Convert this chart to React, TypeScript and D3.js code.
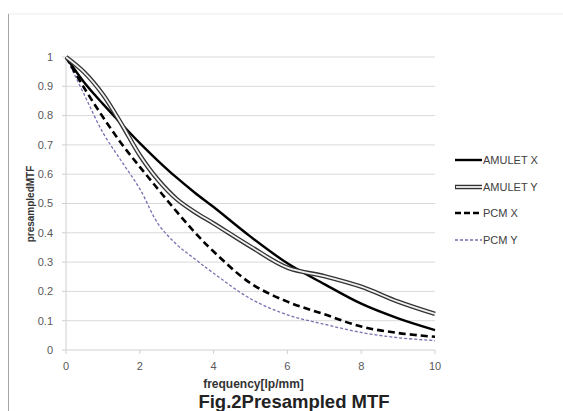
import * as d3 from "d3";
import React from "react";

// frequency [lp/mm] sample points
const freq = [0, 0.5, 1, 1.5, 2, 2.5, 3, 3.5, 4, 5, 6, 7, 8, 9, 10];

// presampled MTF values
const amuletX = [1, 0.912, 0.84, 0.772, 0.706, 0.645, 0.588, 0.536, 0.488, 0.387, 0.296, 0.225, 0.158, 0.108, 0.068];
const amuletY = [1, 0.947, 0.872, 0.772, 0.665, 0.58, 0.515, 0.47, 0.432, 0.353, 0.281, 0.252, 0.216, 0.165, 0.123];
const pcmX = [1, 0.893, 0.795, 0.705, 0.625, 0.548, 0.472, 0.4, 0.336, 0.228, 0.165, 0.122, 0.08, 0.058, 0.045];
const pcmY = [1, 0.87, 0.742, 0.645, 0.55, 0.43, 0.36, 0.31, 0.262, 0.175, 0.12, 0.088, 0.06, 0.042, 0.032];

const xTicks = [0, 2, 4, 6, 8, 10];
const yTicks = [0, 0.1, 0.2, 0.3, 0.4, 0.5, 0.6, 0.7, 0.8, 0.9, 1];

const seriesNames = ["AMULET X", "AMULET Y", "PCM X", "PCM Y"];

const W = 563;
const H = 411;
const margin = { top: 57, right: 128, bottom: 61, left: 66 };
const font = "'Liberation Sans', Arial, sans-serif";

export default function App() {
  const x = d3.scaleLinear().domain([0, 10]).range([margin.left, W - margin.right]);
  const y = d3.scaleLinear().domain([0, 1]).range([H - margin.bottom, margin.top]);

  const line = d3
    .line<number>()
    .x((_, i) => x(freq[i]))
    .y((d) => y(d))
    .curve(d3.curveCatmullRom.alpha(0.5));

  const legendY = [160, 187, 213, 240];

  return (
    <svg
      width={W}
      height={H}
      style={{ position: "absolute", left: 0, top: 0, background: "#fff" }}
      fontFamily={font}
    >
      {/* frame */}
      <line x1={8} x2={W} y1={14} y2={14} stroke="#ececec" />
      <line x1={8.5} x2={8.5} y1={14} y2={H} stroke="#a6a6a6" />

      {/* gridlines */}
      {yTicks.slice(1).map((t) => (
        <line key={t} x1={x(0)} x2={x(10)} y1={y(t)} y2={y(t)} stroke="#d9d9d9" />
      ))}

      {/* axes */}
      <line x1={x(0)} x2={x(10)} y1={y(0)} y2={y(0)} stroke="#d0d0d0" />
      <line x1={x(0)} x2={x(0)} y1={y(1)} y2={y(0)} stroke="#d0d0d0" />
      {yTicks.map((t) => (
        <g key={t}>
          <line x1={x(0) - 4} x2={x(0)} y1={y(t)} y2={y(t)} stroke="#d0d0d0" />
          <text x={53} y={y(t)} dy="0.35em" textAnchor="end" fontSize={11} fill="#595959">
            {t}
          </text>
        </g>
      ))}
      {xTicks.map((t) => (
        <g key={t}>
          <line x1={x(t)} x2={x(t)} y1={y(0)} y2={y(0) + 4} stroke="#d0d0d0" />
          <text x={x(t)} y={370} textAnchor="middle" fontSize={11} fill="#595959">
            {t}
          </text>
        </g>
      ))}

      {/* series */}
      <path d={line(pcmY) ?? ""} fill="none" stroke="#7b6fb0" strokeWidth={1.3} strokeDasharray="3,2" />
      <path d={line(pcmX) ?? ""} fill="none" stroke="#000" strokeWidth={2.6} strokeDasharray="7,4" />
      <path d={line(amuletX) ?? ""} fill="none" stroke="#000" strokeWidth={2.4} />
      <path d={line(amuletY) ?? ""} fill="none" stroke="#333" strokeWidth={4.5} />
      <path d={line(amuletY) ?? ""} fill="none" stroke="#f2f2f2" strokeWidth={1.8} />

      {/* axis titles */}
      <text
        transform={`translate(34,${204}) rotate(-90)`}
        textAnchor="middle"
        fontSize={10}
        fontWeight="bold"
        fill="#333"
      >
        presampledMTF
      </text>
      <text x={253.5} y={388} textAnchor="middle" fontSize={12} fontWeight="bold" fill="#333">
        frequency[lp/mm]
      </text>
      <text x={294} y={408} textAnchor="middle" fontSize={18.5} fontWeight="bold" fill="#222">
        Fig.2Presampled MTF
      </text>

      {/* legend */}
      {seriesNames.map((name, i) => {
        const ly = legendY[i];
        return (
          <g key={name}>
            {i === 0 && <line x1={455} x2={482} y1={ly} y2={ly} stroke="#000" strokeWidth={2.4} />}
            {i === 1 && (
              <>
                <line x1={455} x2={482} y1={ly} y2={ly} stroke="#333" strokeWidth={4.5} />
                <line x1={456} x2={482} y1={ly} y2={ly} stroke="#f2f2f2" strokeWidth={1.8} />
              </>
            )}
            {i === 2 && (
              <line x1={455} x2={482} y1={ly} y2={ly} stroke="#000" strokeWidth={2.6} strokeDasharray="6,3" />
            )}
            {i === 3 && (
              <line x1={455} x2={482} y1={ly} y2={ly} stroke="#7b6fb0" strokeWidth={1.3} strokeDasharray="3,2" />
            )}
            <text x={483} y={ly} dy="0.35em" fontSize={11} fill="#404040">
              {name}
            </text>
          </g>
        );
      })}
    </svg>
  );
}
